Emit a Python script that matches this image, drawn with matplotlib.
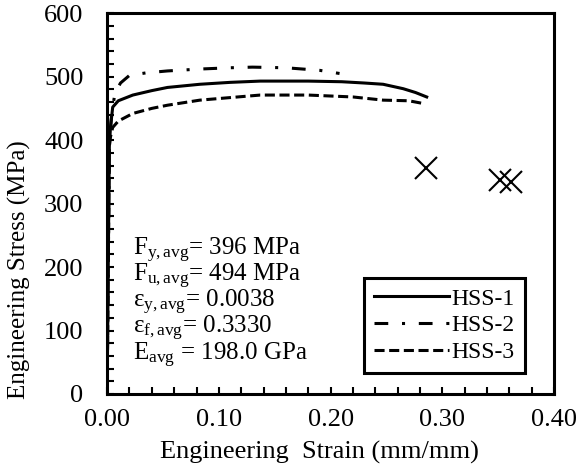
import matplotlib
matplotlib.use('Agg')
import matplotlib.pyplot as plt
from matplotlib.ticker import MultipleLocator

plt.rcParams['font.family'] = ['Liberation Serif', 'DejaVu Serif']
plt.rcParams['mathtext.fontset'] = 'custom'
plt.rcParams['mathtext.rm'] = 'Liberation Serif'
plt.rcParams['mathtext.it'] = 'Liberation Serif:italic'

# Stress-strain curves
strain_1 = [0, 0.001, 0.002, 0.003, 0.005, 0.01, 0.023, 0.04, 0.054, 0.083, 0.11, 0.137, 0.18, 0.21, 0.23, 0.247, 0.265, 0.276, 0.286]
stress_1 = [0, 200, 390, 420, 452, 462, 471, 478, 483, 488, 491, 493, 493, 492, 490, 488, 481, 475, 468]

strain_2 = [0, 0.002, 0.004, 0.007, 0.012, 0.02, 0.035, 0.054, 0.083, 0.11, 0.13, 0.16, 0.19, 0.208]
stress_2 = [0, 395, 440, 474, 490, 502, 506, 509, 512, 514, 515, 514, 510, 505]

strain_3 = [0, 0.002, 0.003, 0.005, 0.01, 0.023, 0.04, 0.054, 0.083, 0.11, 0.137, 0.18, 0.22, 0.247, 0.27, 0.282]
stress_3 = [0, 390, 405, 420, 430, 442, 450, 455, 463, 467, 471, 471, 468, 463, 462, 458]

# Fracture points
frac_strain = [0.285, 0.352, 0.361]
frac_stress = [356, 337, 334]

labels = ['HSS-1', 'HSS-2', 'HSS-3']
props = [r'F$_{\mathrm{y,avg}}$= 396 MPa',
         r'F$_{\mathrm{u,avg}}$= 494 MPa',
         r'ε$_{\mathrm{y,avg}}$= 0.0038',
         r'ε$_{\mathrm{f,avg}}$= 0.3330',
         r'E$_{\mathrm{avg}}$ = 198.0 GPa']
props_y = [0.365, 0.296, 0.227, 0.158, 0.089]

fig = plt.figure(figsize=(5.79, 4.71), dpi=100)
ax = fig.add_axes([0.185, 0.1635, 0.772, 0.8085])

ax.plot(strain_1, stress_1, color='black', lw=2.2, ls='-', label=labels[0])
ax.plot(strain_2, stress_2, color='black', lw=2.2, ls=(0, (4.5, 4.5, 1, 4.5)), label=labels[1])
ax.plot(strain_3, stress_3, color='black', lw=2.2, ls=(0, (3.3, 1.5)), label=labels[2])
ax.plot(frac_strain, frac_stress, ls='none', marker='x', color='black', ms=16, mew=1.5)

ax.set_xlim(0, 0.40)
ax.set_ylim(0, 600)
ax.xaxis.set_major_locator(MultipleLocator(0.1))
ax.xaxis.set_minor_locator(MultipleLocator(0.02))
ax.yaxis.set_major_locator(MultipleLocator(100))
ax.yaxis.set_minor_locator(MultipleLocator(20))
ax.xaxis.set_major_formatter(plt.FormatStrFormatter('%.2f'))
ax.tick_params(which='both', direction='in', length=5, width=1.5, labelsize=19,
               top=False, right=False)
ax.tick_params(axis='x', pad=11)
ax.tick_params(axis='y', pad=17)
for s in ax.spines.values():
    s.set_linewidth(2.2)

ax.set_xlabel('Engineering  Strain (mm/mm)', fontsize=19, va='top')
ax.set_ylabel('Engineering Stress (MPa)', fontsize=18)
ax.xaxis.set_label_coords(0.475, -0.124)
ax.yaxis.set_label_coords(-0.17, 0.326)

for t, y in zip(props, props_y):
    ax.text(0.058, y, t, transform=ax.transAxes, fontsize=18,
            va='baseline', ha='left')

leg = ax.legend(loc='lower right', bbox_to_anchor=(0.9067, 0.208),
                bbox_transform=fig.transFigure, fontsize=17,
                frameon=True, fancybox=False, edgecolor='black', framealpha=1,
                handlelength=3.2, handletextpad=0.1, borderpad=0.42,
                labelspacing=0.22, borderaxespad=0)
leg.get_frame().set_linewidth(2.2)

fig.savefig('out.png', dpi=100)
